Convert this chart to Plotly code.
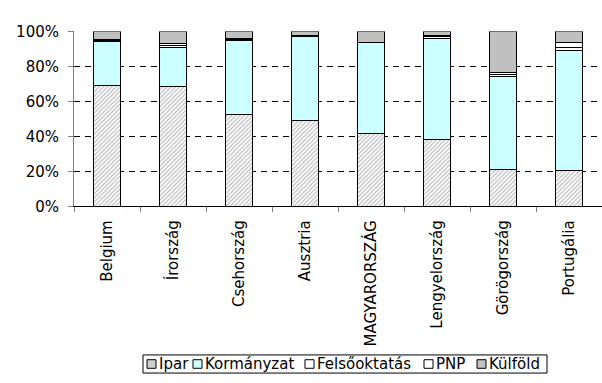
import plotly.graph_objects as go

# R&D expenditure by source of funds, share of total (%)
countries = ["Belgium", "Írország", "Csehország", "Ausztria",
             "MAGYARORSZÁG", "Lengyelország", "Görögország", "Portugália"]
ipar = [69.1, 68.7, 52.4, 48.8, 41.5, 37.9, 21.0, 20.7]
kormanyzat = [25.1, 22.2, 42.5, 48.0, 52.0, 58.1, 53.2, 68.4]
felsooktatas = [0.8, 1.2, 0.6, 0.4, 0.2, 0.8, 1.2, 1.5]
pnp = [0.5, 1.0, 0.3, 0.3, 0.1, 1.0, 1.0, 3.1]
kulfold = [4.5, 6.9, 4.2, 2.5, 6.2, 2.2, 23.6, 6.3]
y_ticks = [0, 20, 40, 60, 80, 100]

W, H = 602, 383
FONT = dict(family="DejaVu Sans, Verdana, sans-serif", size=15, color="#000")


def px_x(x):
    return x / W


def px_y(y):
    return 1 - y / H


fig = go.Figure()

series = [
    ("Ipar", ipar, dict(color="white",
                        pattern=dict(shape="/", fgcolor="#7a7a7a", bgcolor="white",
                                     size=3, solidity=0.4))),
    ("Kormányzat", kormanyzat, dict(color="#CCFFFF")),
    ("Felsőoktatás", felsooktatas, dict(color="#FFFFFF")),
    ("PNP", pnp, dict(color="#FFFFFF")),
    ("Külföld", kulfold, dict(color="#C0C0C0")),
]
for name, vals, mk in series:
    mk = dict(mk)
    mk["line"] = dict(color="#000", width=1)
    fig.add_trace(go.Bar(name=name, x=countries, y=vals, marker=mk, showlegend=False))

fig.update_layout(
    width=W, height=H,
    margin=dict(l=0, r=0, t=0, b=0),
    barmode="stack",
    bargap=0.59,
    paper_bgcolor="white",
    plot_bgcolor="white",
    font=FONT,
    xaxis=dict(
        domain=[px_x(74), 1],
        type="category",
        tickangle=-90,
        ticks="outside", ticklen=5, tickcolor="#808080",
        tickson="boundaries",
        ticklabelstandoff=7,
        showline=True, linecolor="#000", linewidth=1,
        showgrid=False,
        tickfont=FONT,
        anchor="y",
    ),
    yaxis=dict(
        domain=[px_y(207), px_y(23.5)],
        range=[0, 100],
        tickvals=y_ticks,
        ticktext=[f"{v}%" for v in y_ticks],
        ticks="outside", ticklen=5, tickcolor="#808080",
        ticklabelstandoff=6,
        showline=True, linecolor="#808080", linewidth=1,
        showgrid=True, gridcolor="#000", gridwidth=1, griddash="6px,5px",
        zeroline=False,
        tickfont=FONT,
        anchor="x",
    ),
)

# Legend drawn as a boxed row of swatches and labels
legend_items = [
    ("Ipar", 147, "#cfcfcf"),
    ("Kormányzat", 193, "#CCFFFF"),
    ("Felsőoktatás", 305, "#FFFFFF"),
    ("PNP", 424, "#FFFFFF"),
    ("Külföld", 477, "#C0C0C0"),
]
ly = 372.5
fig.add_shape(type="rect", xref="paper", yref="paper",
              x0=px_x(143), x1=px_x(547), y0=px_y(363), y1=px_y(382),
              line=dict(color="#000", width=1), fillcolor="white", layer="above")
for label, sx, col in legend_items:
    fig.add_shape(type="rect", xref="paper", yref="paper",
                  x0=px_x(sx), x1=px_x(sx + 9), y0=px_y(ly - 4.5), y1=px_y(ly + 4.5),
                  line=dict(color="#000", width=1), fillcolor=col, layer="above")
    fig.add_annotation(text=label, xref="paper", yref="paper",
                       x=px_x(sx + 11), y=px_y(ly), xanchor="left", yanchor="middle",
                       showarrow=False, font=FONT, borderpad=0)

fig.write_html("out.html")
